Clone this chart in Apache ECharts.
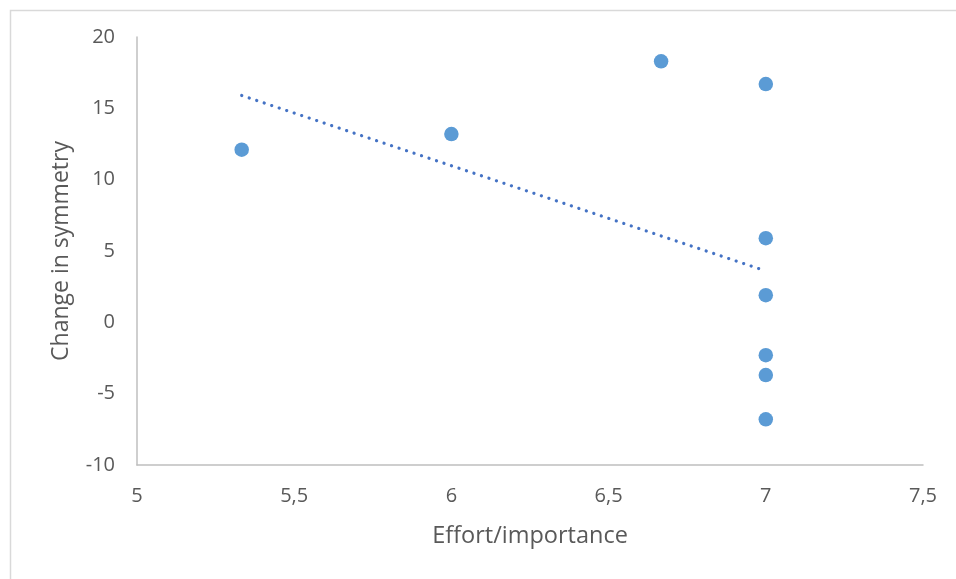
<!DOCTYPE html>
<html>
<head>
<meta charset="utf-8">
<style>
  html, body { margin: 0; padding: 0; background: #fff; }
  #chart { width: 956px; height: 579px; }
</style>
<script src="https://cdn.jsdelivr.net/npm/echarts@6/dist/echarts.min.js"></script>
</head>
<body>
<div id="chart"></div>
<script>
// Effort/importance score per participant
const effort = [5.333, 6, 6.667, 7, 7, 7, 7, 7, 7];
// Change in symmetry per participant
const symmetry = [12.1, 13.2, 18.3, 16.7, 5.9, 1.9, -2.3, -3.7, -6.8];
// Linear trendline end points (x, y)
const trendX = [5.333, 7];
const trendY = [15.9, 3.6];

const xTicks = { min: 5, max: 7.5, step: 0.5 };
const yTicks = { min: -10, max: 20, step: 5 };

const points = effort.map((x, i) => [x, symmetry[i]]);
const trend = trendX.map((x, i) => [x, trendY[i]]);

const font = '"Open Sans", "Noto Sans", sans-serif';
const labelColor = '#595959';
const axisColor = '#BFBFBF';

const chart = echarts.init(document.getElementById('chart'), null, { renderer: 'canvas' });
chart.setOption({
  animation: false,
  backgroundColor: '#ffffff',
  graphic: [{
    type: 'rect',
    left: 8, top: 8,
    shape: { width: 1000, height: 640 },
    style: { fill: 'none', stroke: '#D9D9D9', lineWidth: 1.5 },
    silent: true, z: -1
  }],
  grid: { left: 137, right: 33, top: 37, bottom: 114, containLabel: false },
  xAxis: {
    type: 'value',
    min: xTicks.min, max: xTicks.max, interval: xTicks.step,
    name: 'Effort/importance',
    nameLocation: 'middle',
    nameGap: 59,
    nameTextStyle: { color: labelColor, fontSize: 23.5, fontFamily: font },
    axisLine: { show: true, onZero: false, lineStyle: { color: axisColor, width: 1.5 } },
    axisTick: { show: false },
    splitLine: { show: false },
    axisLabel: {
      color: labelColor, fontSize: 20, fontFamily: font, margin: 21,
      formatter: v => String(v).replace('.', ',')
    }
  },
  yAxis: {
    type: 'value',
    min: yTicks.min, max: yTicks.max, interval: yTicks.step,
    name: 'Change in symmetry',
    nameLocation: 'middle',
    nameGap: 64,
    nameTextStyle: { color: labelColor, fontSize: 23, fontFamily: font },
    axisLine: { show: true, onZero: false, lineStyle: { color: axisColor, width: 1.5 } },
    axisTick: { show: false },
    splitLine: { show: false },
    axisLabel: { color: labelColor, fontSize: 20, fontFamily: font, margin: 22 }
  },
  series: [
    {
      type: 'line',
      data: trend,
      symbol: 'none',
      lineStyle: { color: '#4472C4', width: 3.2, type: [0.1, 7.8], cap: 'round' },
      z: 1
    },
    {
      type: 'scatter',
      data: points,
      symbolSize: 14.5,
      itemStyle: { color: '#5B9BD5', opacity: 1 },
      z: 2
    }
  ]
});
</script>
</body>
</html>
